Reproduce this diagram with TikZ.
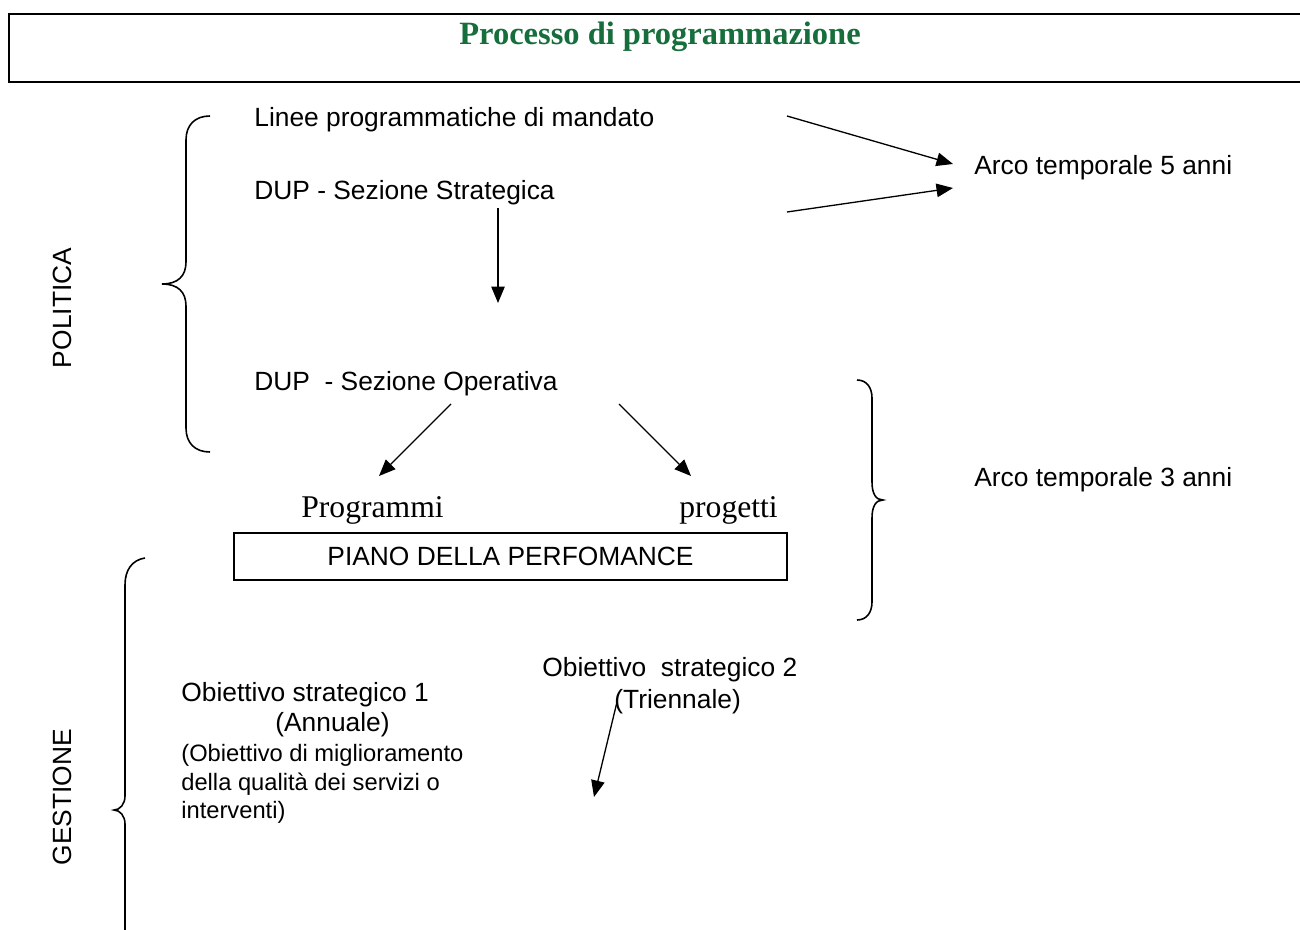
\documentclass[tikz,border=0pt]{standalone}
\usepackage{fontspec}
\setmainfont{Liberation Serif}
\setsansfont{Liberation Sans}
\usetikzlibrary{arrows.meta}
\definecolor{titlegreen}{RGB}{22,110,60}
\begin{document}
\begin{tikzpicture}[x=0.02cm,y=-0.02cm,
  txt/.style={inner sep=0pt,anchor=west,font=\sffamily\fontsize{15}{18}\selectfont},
  small/.style={inner sep=0pt,anchor=west,align=left,font=\sffamily\fontsize{13.5}{16.2}\selectfont},
  serif/.style={inner sep=0pt,anchor=west,font=\rmfamily\fontsize{18}{21}\selectfont},
  side/.style={inner sep=0pt,rotate=90,font=\sffamily\fontsize{15}{18}\selectfont},
  arr/.style={line width=0.75pt,-{Triangle[length=0.33cm,width=0.27cm]}},
  brace/.style={line width=0.9pt},
  pbox/.style={draw,line width=0.9pt,minimum width=11.06cm,minimum height=0.94cm,inner sep=0pt,font=\sffamily\fontsize{15}{18}\selectfont}]
\useasboundingbox (0,0) rectangle (1300,929);
\fill[white] (0,0) rectangle (1300,929);
% title frame
\draw[line width=1.1pt] (1302,14) -- (9,14) -- (9,82) -- (1302,82);
\node[inner sep=0pt,font=\rmfamily\bfseries\fontsize{18.5}{21}\selectfont,text=titlegreen] (title) at (660,37) {Processo di programmazione};
% texts
\node[txt] (lin) at (254,120) {Linee programmatiche di mandato};
\node[txt] (dss) at (254,193) {DUP - Sezione Strategica};
\node[txt] (dso) at (254,384) {DUP\ \ - Sezione Operativa};
\node[txt] (a5) at (974,168) {Arco temporale 5 anni};
\node[txt] (a3) at (974,480) {Arco temporale 3 anni};
\node[serif] (prg) at (301,510) {Programmi};
\node[serif] (pgt) at (679,510) {progetti};
\node[pbox] (piano) at (510.5,556.5) {PIANO DELLA PERFOMANCE};
\node[txt] (ob1) at (181,695) {Obiettivo strategico 1};
\node[txt] (ann) at (275,725) {(Annuale)};
\node[small] (desc) at (181,784) {(Obiettivo di miglioramento\\della qualità dei servizi o\\interventi)};
\node[txt] (ob2) at (542,670) {Obiettivo\ \ strategico 2};
\node[txt] (tri) at (614,702) {(Triennale)};
\node[side] (pol) at (62,308) {POLITICA};
\node[side] (ges) at (62,797) {GESTIONE};
% connector ends
\coordinate (s1) at (787,116);
\coordinate (t1) at (953,164);
\coordinate (s2) at (787,212);
\coordinate (t2) at (953,188);
\coordinate (s3) at (498,208);
\coordinate (t3) at (498,303);
\coordinate (s4) at (451,404);
\coordinate (t4) at (379,476);
\coordinate (s5) at (619,404);
\coordinate (t5) at (691,476);
\coordinate (s6) at (617,702);
\coordinate (t6) at (594,797);
\draw[arr] (s1) -- (t1);
\draw[arr] (s2) -- (t2);
\draw[arr] (s3) -- (t3);
\draw[arr] (s4) -- (t4);
\draw[arr] (s5) -- (t5);
\draw[arr] (s6) -- (t6);
% braces
\draw[brace] (210,116) .. controls (195,116) and (186,125) .. (186,140) -- (186,262)
  .. controls (186,276) and (178,284) .. (162,284)
  .. controls (178,284) and (186,292) .. (186,306) -- (186,428)
  .. controls (186,443) and (195,452) .. (210,452);
\draw[brace] (857,380) .. controls (867,380) and (872,388) .. (872,398) -- (872,482)
  .. controls (872,494) and (876,500) .. (883,500)
  .. controls (876,500) and (872,506) .. (872,518) -- (872,602)
  .. controls (872,612) and (867,620) .. (857,620);
\draw[brace] (145,558) .. controls (132,560) and (125,570) .. (125,585) -- (125,796)
  .. controls (125,804) and (120,810) .. (114,810)
  .. controls (120,810) and (125,816) .. (125,824) -- (125,935);
\end{tikzpicture}
\end{document}
